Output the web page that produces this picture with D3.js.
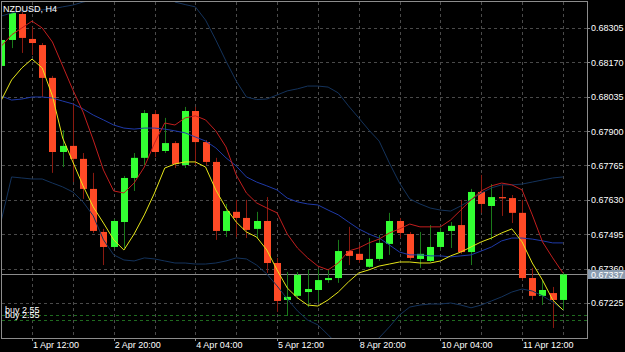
<!DOCTYPE html>
<html lang="en">
<head>
<meta charset="UTF-8">
<title>NZDUSD, H4</title>
<script src="https://d3js.org/d3.v7.min.js"></script>
<style>
  body { margin: 0; background: #000; }
  svg { display: block; }
  text { font-family: "Liberation Sans", Arial, sans-serif; font-size: 9px; fill: #fff; }
</style>
</head>
<body>
<svg width="625" height="352"></svg>
<script>
// bar times (H4)
const times = [
  "1 Apr 00:00","1 Apr 04:00","1 Apr 08:00","1 Apr 12:00","1 Apr 16:00","1 Apr 20:00",
  "2 Apr 00:00","2 Apr 04:00","2 Apr 08:00","2 Apr 12:00","2 Apr 16:00","2 Apr 20:00",
  "3 Apr 00:00","3 Apr 04:00","3 Apr 08:00","3 Apr 12:00","3 Apr 16:00","3 Apr 20:00",
  "4 Apr 00:00","4 Apr 04:00","4 Apr 08:00","4 Apr 12:00","4 Apr 16:00","4 Apr 20:00",
  "5 Apr 00:00","5 Apr 04:00","5 Apr 08:00","5 Apr 12:00","5 Apr 16:00","5 Apr 20:00",
  "8 Apr 00:00","8 Apr 04:00","8 Apr 08:00","8 Apr 12:00","8 Apr 16:00","8 Apr 20:00",
  "9 Apr 00:00","9 Apr 04:00","9 Apr 08:00","9 Apr 12:00","9 Apr 16:00","9 Apr 20:00",
  "10 Apr 00:00","10 Apr 04:00","10 Apr 08:00","10 Apr 12:00","10 Apr 16:00","10 Apr 20:00",
  "11 Apr 00:00","11 Apr 04:00","11 Apr 08:00","11 Apr 12:00","11 Apr 16:00","11 Apr 20:00",
  "12 Apr 00:00","12 Apr 04:00"
];

const open = [0.68156,0.68258,0.68360,0.68262,0.68238,0.68109,0.67818,0.67842,0.67791,0.67673,
  0.67504,0.67445,0.67543,0.67716,0.67795,0.67967,0.67822,0.67853,0.67767,0.67979,
  0.67857,0.67779,0.67508,0.67583,0.67559,0.67516,0.67547,0.67382,0.67237,0.67253,
  0.67268,0.67276,0.67315,0.67323,0.67429,0.67418,0.67367,0.67398,0.67457,0.67547,
  0.67496,0.67398,0.67390,0.67445,0.67508,0.67531,0.67425,0.67661,0.67606,0.67641,
  0.67637,0.67579,0.67323,0.67253,0.67264,0.67237];
const high = [0.68266,0.68372,0.68368,0.68309,0.68246,0.68117,0.67904,0.68011,0.67814,0.67736,
  0.67516,0.67555,0.67724,0.67814,0.67983,0.67983,0.67952,0.67861,0.67995,0.67995,
  0.67865,0.67795,0.67614,0.67630,0.67630,0.67583,0.67641,0.67402,0.67347,0.67347,
  0.67355,0.67359,0.67359,0.67473,0.67524,0.67453,0.67480,0.67492,0.67579,0.67559,
  0.67504,0.67504,0.67531,0.67520,0.67543,0.67630,0.67673,0.67728,0.67692,0.67689,
  0.67649,0.67630,0.67363,0.67315,0.67288,0.67343];
const low = [0.68148,0.68226,0.68207,0.68199,0.68034,0.67736,0.67759,0.67700,0.67634,0.67500,
  0.67374,0.67437,0.67441,0.67665,0.67767,0.67798,0.67814,0.67755,0.67755,0.67767,
  0.67767,0.67473,0.67484,0.67484,0.67480,0.67480,0.67343,0.67190,0.67174,0.67241,
  0.67209,0.67229,0.67304,0.67304,0.67374,0.67382,0.67363,0.67390,0.67414,0.67480,
  0.67394,0.67363,0.67386,0.67433,0.67441,0.67418,0.67374,0.67579,0.67473,0.67567,
  0.67539,0.67315,0.67237,0.67217,0.67127,0.67198];
const close = [0.68258,0.68364,0.68266,0.68246,0.68109,0.67818,0.67842,0.67791,0.67673,0.67508,
  0.67445,0.67547,0.67716,0.67795,0.67971,0.67818,0.67853,0.67771,0.67979,0.67857,
  0.67779,0.67508,0.67586,0.67559,0.67512,0.67547,0.67382,0.67233,0.67249,0.67335,
  0.67280,0.67315,0.67323,0.67429,0.67410,0.67394,0.67398,0.67461,0.67547,0.67500,
  0.67402,0.67418,0.67445,0.67504,0.67528,0.67425,0.67661,0.67614,0.67641,0.67636,
  0.67579,0.67323,0.67253,0.67276,0.67237,0.67337];

// indicators
const maFast = [0.68022,0.68101,0.68148,0.68183,0.68148,0.68038,0.67873,0.67779,0.67685,0.67602,
  0.67539,0.67473,0.67433,0.67496,0.67571,0.67657,0.67755,0.67771,0.67779,0.67779,
  0.67759,0.67669,0.67598,0.67543,0.67504,0.67484,0.67433,0.67355,0.67284,0.67245,
  0.67217,0.67213,0.67237,0.67268,0.67308,0.67343,0.67355,0.67370,0.67378,0.67386,
  0.67386,0.67382,0.67382,0.67390,0.67410,0.67425,0.67445,0.67465,0.67480,0.67500,
  0.67516,0.67465,0.67382,0.67315,0.67237,0.67198];
const maSlow = [0.68234,0.68278,0.68305,0.68332,0.68305,0.68250,0.68156,0.68062,0.67975,0.67865,
  0.67747,0.67665,0.67657,0.67696,0.67759,0.67853,0.67932,0.67924,0.67952,0.67960,
  0.67944,0.67901,0.67838,0.67728,0.67657,0.67618,0.67598,0.67579,0.67496,0.67441,
  0.67402,0.67370,0.67355,0.67382,0.67429,0.67441,0.67461,0.67476,0.67500,0.67516,
  0.67535,0.67524,0.67524,0.67524,0.67551,0.67590,0.67630,0.67665,0.67685,0.67696,
  0.67689,0.67669,0.67571,0.67465,0.67402,0.67343];
const bandUpper = [0.68352,0.68364,0.68372,0.68376,0.68376,0.68380,0.68388,0.68395,0.68407,0.68415,
  0.68439,0.68462,0.68482,0.68494,0.68494,0.68478,0.68446,0.68407,0.68397,0.68388,
  0.68336,0.68258,0.68175,0.68097,0.68034,0.68024,0.68026,0.68042,0.68058,0.68066,
  0.68077,0.68077,0.68073,0.68050,0.67999,0.67952,0.67904,0.67861,0.67775,0.67696,
  0.67634,0.67614,0.67598,0.67590,0.67586,0.67606,0.67630,0.67657,0.67677,0.67689,
  0.67689,0.67692,0.67700,0.67708,0.67716,0.67720];
const bandMiddle = [0.68038,0.68022,0.68026,0.68034,0.68034,0.68030,0.68018,0.68007,0.67987,0.67963,
  0.67944,0.67924,0.67912,0.67908,0.67912,0.67912,0.67908,0.67901,0.67893,0.67877,
  0.67861,0.67834,0.67795,0.67763,0.67720,0.67700,0.67685,0.67669,0.67637,0.67622,
  0.67614,0.67610,0.67590,0.67571,0.67543,0.67516,0.67496,0.67480,0.67453,0.67425,
  0.67414,0.67414,0.67410,0.67410,0.67406,0.67410,0.67414,0.67429,0.67445,0.67469,
  0.67480,0.67480,0.67476,0.67469,0.67461,0.67461];
const bandLower = [0.67551,0.67720,0.67716,0.67712,0.67712,0.67696,0.67681,0.67661,0.67622,0.67567,
  0.67473,0.67414,0.67394,0.67390,0.67402,0.67398,0.67390,0.67382,0.67382,0.67378,
  0.67378,0.67382,0.67390,0.67402,0.67398,0.67374,0.67339,0.67292,0.67241,0.67194,
  0.67158,0.67139,0.67100,0.67060,0.67041,0.67041,0.67060,0.67088,0.67131,0.67178,
  0.67209,0.67217,0.67221,0.67221,0.67225,0.67217,0.67206,0.67217,0.67233,0.67249,
  0.67268,0.67280,0.67272,0.67253,0.67229,0.67198];

const priceTicks = [0.68305, 0.68170, 0.68035, 0.67900, 0.67765, 0.67630, 0.67495, 0.67360, 0.67225];
const timeTicks = ["1 Apr 12:00", "2 Apr 20:00", "4 Apr 04:00", "5 Apr 12:00", "8 Apr 20:00", "10 Apr 04:00", "11 Apr 12:00"];
const lastPrice = 0.67337;
const orderLabels = ["buy 2.55", "buy 2.55"];
const orderPrices = [0.67178, 0.67158];

const W = 625, H = 352;
const plot = { left: 2, top: 2, right: 587, bottom: 338 };

const svg = d3.select("svg");
svg.append("rect").attr("width", W).attr("height", H).attr("fill", "#000");

// Scales
const x = d3.scaleLinear()
  .domain([0.06, 57.36])
  .range([plot.left, plot.right]);

const y = d3.scaleLinear()
  .domain([0.670875, 0.684071])
  .range([plot.bottom, plot.top]);

const px = v => Math.round(v) + 0.5;

svg.append("clipPath").attr("id", "plotclip")
  .append("rect")
  .attr("x", plot.left).attr("y", plot.top)
  .attr("width", plot.right - plot.left).attr("height", plot.bottom - plot.top);

const g = svg.append("g").attr("clip-path", "url(#plotclip)");

// Grid
g.selectAll(".hgrid")
  .data(priceTicks)
  .enter().append("line")
  .attr("x1", plot.left).attr("x2", plot.right)
  .attr("y1", d => px(y(d))).attr("y2", d => px(y(d)))
  .attr("stroke", "#4a4a4a")
  .attr("stroke-dasharray", "3,3");

const firstTick = times.indexOf(timeTicks[0]);
const gridIdx = d3.range(0, times.length).filter(i => (i - firstTick) % 4 === 0 && i >= firstTick);
g.selectAll(".vgrid")
  .data(gridIdx)
  .enter().append("line")
  .attr("x1", d => px(x(d))).attr("x2", d => px(x(d)))
  .attr("y1", plot.top).attr("y2", plot.bottom)
  .attr("stroke", "#4a4a4a")
  .attr("stroke-dasharray", "3,3");

// order lines
g.selectAll(".order")
  .data(orderPrices)
  .enter().append("line")
  .attr("x1", plot.left).attr("x2", plot.right)
  .attr("y1", d => px(y(d))).attr("y2", d => px(y(d)))
  .attr("stroke", "#1f6b1f")
  .attr("stroke-dasharray", "3,3");

// last price line
g.append("line")
  .attr("x1", plot.left).attr("x2", plot.right)
  .attr("y1", px(y(lastPrice))).attr("y2", px(y(lastPrice)))
  .attr("stroke", "#8c8c8c");

// Candles
const bars = times.map((t, i) => ({ i, o: open[i], h: high[i], l: low[i], c: close[i] }));
const bodyW = 7;

g.selectAll(".wick")
  .data(bars)
  .enter().append("line")
  .attr("x1", d => px(x(d.i))).attr("x2", d => px(x(d.i)))
  .attr("y1", d => y(d.h)).attr("y2", d => y(d.l))
  .attr("stroke", d => d.c >= d.o ? "#1a7a1a" : "#8a1a10");

g.selectAll(".body")
  .data(bars)
  .enter().append("rect")
  .attr("x", d => Math.round(x(d.i)) - 3)
  .attr("width", bodyW)
  .attr("y", d => y(Math.max(d.o, d.c)))
  .attr("height", d => Math.max(1, Math.abs(y(d.o) - y(d.c))))
  .attr("fill", d => d.c >= d.o ? "#33ff33" : "#ff4a26");

// Indicator lines
const line = d3.line().x((d, i) => x(i)).y(d => y(d));
const series = [
  { v: bandUpper, color: "#14335c" },
  { v: bandLower, color: "#14335c" },
  { v: bandMiddle, color: "#1f3aa8" },
  { v: maSlow, color: "#c21e1e" },
  { v: maFast, color: "#e6e619" }
];
g.selectAll(".ind")
  .data(series)
  .enter().append("path")
  .attr("d", d => line(d.v))
  .attr("fill", "none")
  .attr("stroke", d => d.color)
  .attr("stroke-width", 1);

// order labels
svg.selectAll(".orderlbl")
  .data(orderPrices)
  .enter().append("text")
  .attr("x", 5)
  .attr("y", d => y(d) - 2)
  .text((d, i) => orderLabels[i]);

// Border
svg.append("rect")
  .attr("x", plot.left - 0.5).attr("y", plot.top - 0.5)
  .attr("width", plot.right - plot.left + 1).attr("height", plot.bottom - plot.top + 1)
  .attr("fill", "none")
  .attr("stroke", "#8c8c8c");

// Price axis
svg.selectAll(".ptick")
  .data(priceTicks)
  .enter().append("line")
  .attr("x1", plot.right).attr("x2", plot.right + 3)
  .attr("y1", d => px(y(d))).attr("y2", d => px(y(d)))
  .attr("stroke", "#8c8c8c");

svg.selectAll(".plabel")
  .data(priceTicks)
  .enter().append("text")
  .attr("x", plot.right + 4)
  .attr("y", d => y(d) + 3.5)
  .text(d => d3.format(".5f")(d));

// last price tag
svg.append("rect")
  .attr("x", plot.right + 1).attr("y", Math.round(y(lastPrice)) - 4)
  .attr("width", 37).attr("height", 9)
  .attr("fill", "#8a9cb0");
svg.append("text")
  .attr("x", plot.right + 4)
  .attr("y", y(lastPrice) + 3.5)
  .attr("fill", "#fff")
  .text(d3.format(".5f")(lastPrice));

// Time axis
const tickIdx = timeTicks.map(t => times.indexOf(t));
svg.selectAll(".ttick")
  .data(tickIdx)
  .enter().append("line")
  .attr("x1", d => px(x(d))).attr("x2", d => px(x(d)))
  .attr("y1", plot.bottom).attr("y2", plot.bottom + 3)
  .attr("stroke", "#8c8c8c");

svg.selectAll(".tlabel")
  .data(tickIdx)
  .enter().append("text")
  .attr("x", d => x(d) + 1)
  .attr("y", plot.bottom + 10)
  .text((d, i) => timeTicks[i]);

// title
svg.append("text")
  .attr("x", 3).attr("y", 12)
  .text("NZDUSD, H4");
</script>
</body>
</html>
